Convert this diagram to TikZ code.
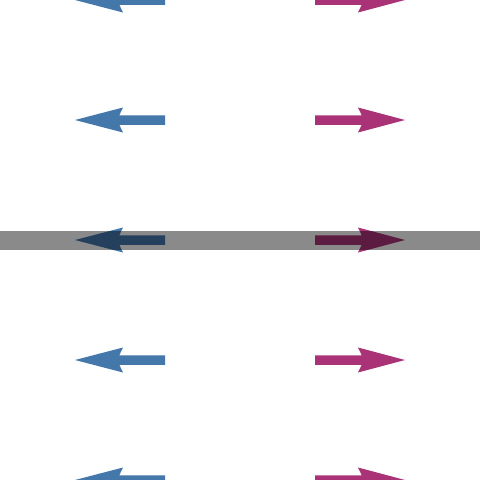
\documentclass[tikz,border=0pt]{standalone}
\definecolor{qblue}{HTML}{4477AA}
\definecolor{qmag}{HTML}{AA3377}
\begin{document}
\begin{tikzpicture}[x=1pt,y=-1pt,
  bluearrow/.style={fill=qblue,draw=none},
  magarrow/.style={fill=qmag,draw=none},
  band/.style={fill=black,fill opacity=0.46,draw=none}]
\clip (0,0) rectangle (480,480);
\useasboundingbox (0,0) rectangle (480,480);
\fill[white] (0,0) rectangle (480,480);
\foreach \c in {0,120,240,360,480}{
  \path[bluearrow] (165,\c-4.75) -- (119.3,\c-4.75) -- (123,\c-12.5) -- (75,\c)
     -- (123,\c+12.5) -- (119.3,\c+4.75) -- (165,\c+4.75) -- cycle;
  \path[magarrow] (315,\c-4.75) -- (361.7,\c-4.75) -- (358,\c-12.5) -- (405,\c)
     -- (358,\c+12.5) -- (361.7,\c+4.75) -- (315,\c+4.75) -- cycle;
}
\path[band] (0,231) rectangle (480,249.5);
\end{tikzpicture}
\end{document}
